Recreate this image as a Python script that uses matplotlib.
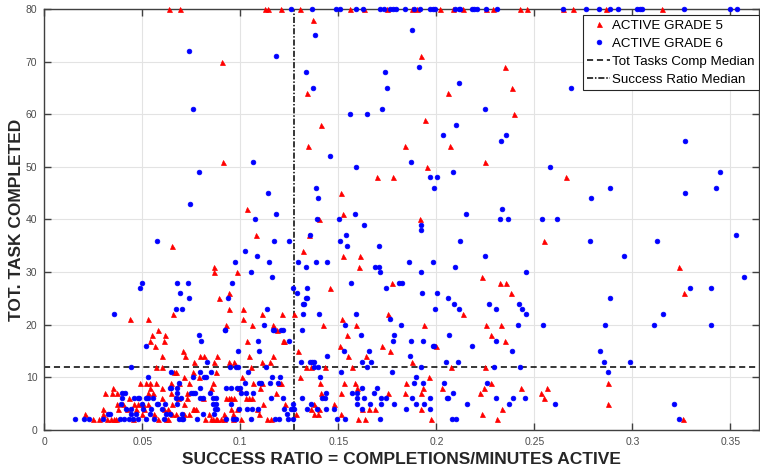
"""Scatter of total tasks completed vs success ratio, grade 5 and grade 6 students,
with the median of each axis drawn as a reference line."""
import matplotlib
matplotlib.use("Agg")
import matplotlib.pyplot as plt
from matplotlib.ticker import FuncFormatter, MultipleLocator
import numpy as np

plt.rcParams["font.family"] = ["Liberation Sans", "DejaVu Sans"]

TASKS_MEDIAN = 12
RATIO_MEDIAN = 0.1274
TASK_CAP = 80

# (success ratio, total tasks completed)
grade5_points = [
    # low ratio, few tasks
    (0.0210, 3), (0.0250, 2), (0.0280, 2), (0.0300, 4), (0.0300, 3), (0.0310, 7), (0.0350, 8),
    (0.0347, 7), (0.0369, 7), (0.0370, 5), (0.0400, 5), (0.0375, 4), (0.0420, 4), (0.0320, 2),
    (0.0340, 2), (0.0355, 2), (0.0365, 2), (0.0430, 6), (0.0460, 5), (0.0480, 5), (0.0505, 5),
    (0.0530, 5), (0.0600, 6), (0.0490, 9), (0.0517, 9), (0.0540, 9), (0.0570, 9), (0.0600, 8),
    (0.0530, 7), (0.0540, 8), (0.0570, 12), (0.0600, 12), (0.0600, 14), (0.0566, 16), (0.0550, 18),
    (0.0614, 18), (0.0610, 17), (0.0630, 4), (0.0630, 2), (0.0645, 9), (0.0655, 22), (0.0670, 11),
    (0.0470, 4), (0.0450, 2), (0.0500, 3), (0.0560, 3), (0.0580, 2), (0.0620, 2), (0.0650, 5),
    (0.0650, 3), (0.0508, 4), (0.0612, 4), (0.0645, 7), (0.0556, 7), (0.0539, 17),
    # ratio 0.066 - 0.13
    (0.0710, 15), (0.0720, 14), (0.0795, 14), (0.0815, 14), (0.0880, 14), (0.0764, 13),
    (0.0866, 13), (0.0943, 13), (0.0968, 13), (0.1033, 17), (0.1045, 14), (0.1108, 13),
    (0.1152, 13), (0.1169, 14), (0.1215, 17), (0.1223, 17), (0.1295, 15), (0.0662, 11),
    (0.0713, 10), (0.0760, 11), (0.0790, 10), (0.0875, 11), (0.1053, 12), (0.1010, 10),
    (0.0688, 9), (0.0740, 9), (0.0858, 9), (0.0994, 8), (0.1065, 9), (0.1110, 9), (0.1195, 9),
    (0.1206, 9), (0.1305, 10), (0.0730, 7), (0.0850, 8), (0.1101, 8), (0.1180, 7), (0.0680, 6),
    (0.0713, 5), (0.0730, 6), (0.0807, 6), (0.0926, 6), (0.0940, 6), (0.0950, 6), (0.0970, 6),
    (0.1030, 6), (0.1045, 6), (0.1057, 6), (0.1118, 5), (0.1230, 5), (0.0756, 4), (0.0764, 4),
    (0.0773, 4), (0.0950, 4), (0.0985, 4), (0.1084, 4), (0.0670, 3), (0.0713, 3), (0.0740, 3),
    (0.0840, 3), (0.0917, 3), (0.0960, 3), (0.1096, 3), (0.1283, 3), (0.0820, 2), (0.0852, 2),
    (0.0862, 2), (0.0875, 2), (0.0883, 2), (0.0900, 2), (0.0917, 2), (0.0965, 2), (0.1002, 2),
    (0.1135, 2), (0.1155, 2),
    # ratio 0.13 - 0.20
    (0.1546, 18), (0.1509, 16), (0.1551, 14), (0.1640, 14), (0.1720, 16), (0.1764, 15),
    (0.1874, 13), (0.1333, 12), (0.1359, 12), (0.1430, 12), (0.1568, 12), (0.1407, 9),
    (0.1529, 9), (0.1584, 9), (0.1597, 8), (0.1847, 9), (0.1932, 8), (0.1960, 10), (0.1413, 7),
    (0.1515, 7), (0.1755, 7), (0.1840, 7), (0.1920, 7), (0.1376, 5), (0.1478, 5), (0.1359, 4),
    (0.1402, 4), (0.1623, 4), (0.1657, 4), (0.1687, 4), (0.1920, 4), (0.1376, 3), (0.1396, 3),
    (0.1515, 3), (0.1601, 2), (0.1636, 2), (0.1971, 2),
    # ratio 0.20 - 0.26
    (0.2280, 18), (0.2349, 17), (0.1996, 16), (0.2076, 12), (0.2246, 12), (0.2031, 8),
    (0.2243, 8), (0.2280, 9), (0.2434, 8), (0.2536, 7), (0.2563, 8), (0.2223, 7), (0.2550, 6),
    (0.2333, 4), (0.2231, 3), (0.2308, 2),
    # high ratio
    (0.3240, 31), (0.3264, 26), (0.2873, 9), (0.2873, 5), (0.3257, 2), (0.2659, 48),
    # 19 - 39 tasks
    (0.0650, 35), (0.0439, 21), (0.0527, 21), (0.0582, 19), (0.1079, 37), (0.0866, 31),
    (0.0866, 30), (0.0982, 30), (0.0892, 25), (0.0943, 26), (0.0944, 23), (0.1014, 23),
    (0.1012, 21), (0.1108, 22), (0.1211, 22), (0.1274, 22), (0.0927, 20), (0.1057, 20),
    (0.1165, 20), (0.1185, 19), (0.1320, 34),
    (0.1350, 37), (0.1524, 33), (0.1610, 33), (0.1607, 31), (0.1458, 27), (0.1771, 28),
    (0.1754, 22), (0.1521, 21), (0.1424, 20), (0.1592, 20), (0.1937, 20),
    (0.2550, 36), (0.2233, 29), (0.2325, 28), (0.2356, 28), (0.2380, 26), (0.2138, 22),
    (0.2254, 20), (0.2329, 20),
    # 40 - 79 tasks
    (0.0905, 70), (0.0913, 51), (0.1033, 42), (0.1373, 78), (0.1340, 64), (0.1410, 58),
    (0.1346, 54), (0.1512, 45), (0.1526, 41), (0.1403, 40), (0.1696, 48), (0.1924, 71),
    (0.2352, 69), (0.2388, 65), (0.2057, 64), (0.2397, 60), (0.1943, 59), (0.1841, 54),
    (0.2067, 54), (0.2250, 51), (0.1951, 50), (0.1781, 48), (0.1917, 40),
]

grade6_points = [
    # low ratio, few tasks
    (0.0157, 2), (0.0202, 2), (0.0228, 2), (0.0300, 2), (0.0325, 3), (0.0335, 3), (0.0386, 2),
    (0.0407, 2), (0.0434, 2), (0.0454, 2), (0.0480, 2), (0.0520, 2), (0.0560, 2), (0.0610, 2),
    (0.0395, 7), (0.0410, 7), (0.0398, 6), (0.0390, 5), (0.0415, 4), (0.0444, 4), (0.0442, 3),
    (0.0470, 3), (0.0485, 6), (0.0520, 6), (0.0530, 6), (0.0555, 6), (0.0573, 5), (0.0580, 5),
    (0.0614, 5), (0.0505, 4), (0.0540, 3), (0.0600, 4), (0.0620, 3), (0.0440, 12), (0.0519, 16),
    (0.0530, 10), (0.0648, 11), (0.0640, 8), (0.0645, 8), (0.0500, 5), (0.0460, 6), (0.0476, 6),
    (0.0544, 4), (0.0640, 3),
    # ratio 0.066 - 0.13
    (0.0790, 18), (0.0800, 17), (0.0920, 19), (0.0989, 15), (0.1097, 15), (0.1090, 17),
    (0.1250, 17), (0.1170, 19), (0.1220, 19), (0.0830, 13), (0.0946, 12), (0.0980, 12),
    (0.0989, 12), (0.1040, 11), (0.1130, 12), (0.1310, 13), (0.0795, 11), (0.0849, 11),
    (0.0760, 10), (0.0815, 10), (0.0824, 10), (0.0688, 9), (0.1024, 9), (0.1096, 9), (0.1104, 9),
    (0.1159, 10), (0.1203, 10), (0.1150, 9), (0.1190, 9), (0.0676, 8), (0.0747, 7), (0.0756, 7),
    (0.0770, 7), (0.0679, 7), (0.0844, 7), (0.0795, 8), (0.0926, 8), (0.0951, 8), (0.0985, 8),
    (0.1000, 8), (0.1002, 7), (0.1028, 7), (0.1062, 7), (0.0672, 6), (0.0676, 5), (0.0696, 6),
    (0.0795, 6), (0.0812, 6), (0.0863, 6), (0.0875, 6), (0.1155, 6), (0.1215, 6), (0.0858, 5),
    (0.0875, 5), (0.0950, 5), (0.0870, 4), (0.0883, 4), (0.0994, 4), (0.1033, 4), (0.1057, 4),
    (0.1090, 4), (0.1223, 4), (0.1257, 4), (0.1266, 4), (0.0704, 3), (0.0812, 3), (0.0866, 3),
    (0.1240, 3), (0.0688, 2), (0.0700, 2), (0.0710, 2), (0.0778, 2), (0.0926, 2), (0.0960, 2),
    (0.0980, 2), (0.1053, 2), (0.1176, 2), (0.1198, 2), (0.1244, 2), (0.1266, 2), (0.1274, 4),
    (0.1270, 5), (0.1317, 6),
    # ratio 0.13 - 0.20
    (0.1616, 18), (0.1784, 18), (0.1780, 17), (0.1870, 17), (0.1932, 17), (0.1985, 16),
    (0.1529, 15), (0.1657, 15), (0.1440, 14), (0.1356, 13), (0.1368, 13), (0.1376, 13),
    (0.1623, 13), (0.1665, 13), (0.1866, 14), (0.1376, 12), (0.1396, 12), (0.1648, 12),
    (0.1920, 12), (0.1512, 11), (0.1776, 11), (0.1407, 10), (0.1895, 10), (0.1886, 9),
    (0.1932, 9), (0.1618, 8), (0.1696, 8), (0.1436, 7), (0.1568, 7), (0.1597, 7), (0.1682, 7),
    (0.1419, 6), (0.1430, 6), (0.1597, 6), (0.1631, 6), (0.1716, 6), (0.1742, 6), (0.1873, 6),
    (0.1968, 6), (0.1362, 5), (0.1594, 5), (0.1662, 5), (0.1716, 5), (0.1784, 5), (0.1898, 5),
    (0.1937, 5), (0.1342, 4), (0.1393, 4), (0.1436, 4), (0.1478, 4), (0.1623, 4), (0.1847, 4),
    (0.1966, 4), (0.1495, 2), (0.1532, 2), (0.1713, 2),
    # ratio 0.20 - 0.26
    (0.2065, 18), (0.2184, 16), (0.2303, 17), (0.2384, 15), (0.2048, 13), (0.2112, 13),
    (0.2294, 12), (0.2427, 12), (0.2039, 9), (0.2260, 9), (0.2087, 7), (0.2056, 6), (0.2060, 6),
    (0.2303, 6), (0.2391, 6), (0.2454, 6), (0.2158, 5), (0.2370, 5), (0.2604, 5), (0.2082, 2),
    (0.2100, 2), (0.1990, 16),
    # high ratio
    (0.2784, 36), (0.2958, 33), (0.3125, 36), (0.3526, 37), (0.3567, 29), (0.3295, 27),
    (0.3403, 27), (0.2886, 25), (0.3157, 22), (0.2859, 20), (0.3108, 20), (0.3403, 20),
    (0.2835, 15), (0.2856, 13), (0.2985, 13), (0.2876, 11), (0.3213, 5), (0.3238, 2),
    (0.2687, 65), (0.2883, 46), (0.3266, 55), (0.3448, 49), (0.3426, 46), (0.3266, 45),
    (0.2788, 44),
    # 19 - 39 tasks
    (0.0573, 36), (0.0498, 28), (0.0486, 27), (0.0354, 22), (0.1172, 36), (0.1250, 36),
    (0.1023, 34), (0.1087, 33), (0.0975, 32), (0.1145, 32), (0.1055, 30), (0.1162, 29),
    (0.0676, 28), (0.0735, 28), (0.0958, 28), (0.0690, 26), (0.0740, 25), (0.0938, 25),
    (0.0671, 23), (0.0701, 23), (0.1138, 23), (0.1271, 27), (0.1291, 26), (0.1295, 32),
    (0.1319, 22), (0.1322, 24), (0.0921, 19), (0.1120, 20), (0.1167, 19), (0.1206, 19),
    (0.1313, 19),
    (0.1356, 37), (0.1538, 37), (0.1631, 39), (0.1507, 36), (0.1546, 35), (0.1709, 35),
    (0.1920, 38), (0.1388, 32), (0.1444, 32), (0.1861, 32), (0.1985, 32), (0.1333, 31),
    (0.1687, 31), (0.1708, 31), (0.1713, 30), (0.1920, 30), (0.1563, 28), (0.1810, 28),
    (0.1825, 28), (0.1745, 27), (0.1339, 27), (0.1333, 25), (0.1342, 25), (0.1325, 24),
    (0.1927, 26), (0.1402, 22), (0.1592, 22), (0.1764, 21), (0.1536, 20), (0.1818, 20),
    (0.2121, 36), (0.2247, 33), (0.2097, 31), (0.2458, 30), (0.2005, 26), (0.2058, 25),
    (0.2090, 24), (0.2114, 23), (0.1995, 23), (0.2267, 24), (0.2305, 23), (0.2420, 24),
    (0.2437, 23), (0.2458, 22), (0.2414, 20), (0.2546, 20),
    # 40 - 79 tasks
    (0.0740, 72), (0.0757, 61), (0.0788, 49), (0.0743, 43), (0.1180, 71), (0.1067, 51),
    (0.1143, 45), (0.1182, 41), (0.1075, 40), (0.1337, 68), (0.1381, 75), (0.1373, 65),
    (0.1458, 52), (0.1386, 46), (0.1396, 44), (0.1390, 40), (0.1505, 40), (0.1560, 60),
    (0.1648, 60), (0.1592, 50), (0.1584, 41), (0.1878, 76), (0.1910, 69), (0.1740, 68),
    (0.1750, 65), (0.2114, 66), (0.1720, 61), (0.2250, 61), (0.2101, 58), (0.2033, 56),
    (0.2330, 55), (0.2356, 56), (0.1868, 51), (0.2579, 50), (0.2087, 49), (0.1968, 48),
    (0.2005, 48), (0.1990, 46), (0.2150, 41), (0.2334, 42), (0.2322, 40), (0.2363, 40),
    (0.2541, 40), (0.2616, 40), (0.1922, 39),
]

# students whose task count is at or above the cap sit on the top edge
grade5_capped = [0.0638, 0.0692, 0.1128, 0.1141, 0.1206, 0.1305, 0.1560, 0.1631, 0.1750,
                 0.1875, 0.1900, 0.2019, 0.2087, 0.2138, 0.2254, 0.2291, 0.2424, 0.2461,
                 0.2645, 0.2696, 0.2866, 0.3150]
grade6_capped = [0.1257, 0.1364, 0.1488, 0.1509, 0.1590, 0.1628, 0.1713, 0.1733, 0.1764,
                 0.1781, 0.1795, 0.1840, 0.1888, 0.1914, 0.1965, 0.1982, 0.1994, 0.2096,
                 0.2113, 0.2121, 0.2181, 0.2193, 0.2206, 0.2254, 0.2308, 0.2648, 0.2764,
                 0.2827, 0.2886, 0.2924, 0.3022, 0.3040, 0.3048, 0.3261, 0.3499, 0.3533]


def split(points, capped):
    x = [p[0] for p in points] + capped
    y = [p[1] for p in points] + [TASK_CAP] * len(capped)
    return np.array(x), np.array(y)


g5_x, g5_y = split(grade5_points, grade5_capped)
g6_x, g6_y = split(grade6_points, grade6_capped)

fig = plt.figure(figsize=(7.6, 4.66), dpi=100)
ax = fig.add_axes([0.0583, 0.0773, 0.9405, 0.9034])

ax.plot(g5_x, g5_y, "^", color="red", markersize=3.6, markeredgewidth=0.5,
        linestyle="none", clip_on=False, label="ACTIVE GRADE 5", zorder=3)
ax.plot(g6_x, g6_y, "o", color="blue", markersize=3.4, markeredgewidth=0.5,
        linestyle="none", clip_on=False, label="ACTIVE GRADE 6", zorder=3)
ax.axhline(TASKS_MEDIAN, color="black", linestyle=(0, (4, 2.5)), linewidth=1.1,
           label="Tot Tasks Comp Median", zorder=2)
ax.axvline(RATIO_MEDIAN, color="black", linestyle=(0, (4, 1.2, 1, 1.2)), linewidth=1.1,
           label="Success Ratio Median", zorder=2)

ax.set_xlim(0, 0.3646)
ax.set_ylim(0, TASK_CAP)
ax.xaxis.set_major_locator(MultipleLocator(0.05))
ax.yaxis.set_major_locator(MultipleLocator(10))
ax.xaxis.set_major_formatter(FuncFormatter(lambda v, _: f"{v:g}"))
ax.grid(True, color="#e3e3e3", linewidth=0.8)
ax.set_axisbelow(True)

for spine in ax.spines.values():
    spine.set_color("#404040")
    spine.set_linewidth(1.0)
ax.tick_params(direction="in", length=5, width=1, color="#404040", labelsize=7.5,
               labelcolor="#4d4d4d", top=True, right=True, pad=5)

ax.set_xlabel("SUCCESS RATIO = COMPLETIONS/MINUTES ACTIVE", fontsize=12.5,
              fontweight="bold", color="#262626", labelpad=4)
ax.set_ylabel("TOT. TASK COMPLETED", fontsize=12.5, fontweight="bold", color="#262626")
ax.yaxis.set_label_coords(-0.029, 0.5)

leg = ax.legend(loc="upper right", bbox_to_anchor=(1.0, 0.986), fontsize=9.6,
                frameon=True, fancybox=False, framealpha=1, edgecolor="#262626",
                borderpad=0.35, labelspacing=0.42, handlelength=1.7, handletextpad=0.15,
                borderaxespad=0.0)
leg.get_frame().set_linewidth(0.8)

fig.savefig("out.png", dpi=100)
